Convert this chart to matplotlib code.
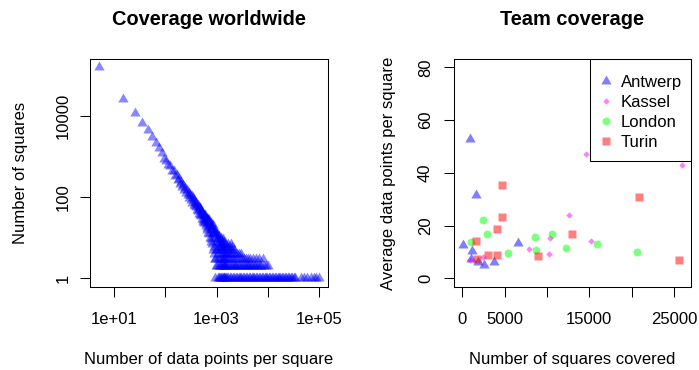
"""
Coverage worldwide (histogram, log-log) + team coverage scatter
"""

import numpy as np
import matplotlib
matplotlib.use("Agg")
import matplotlib.pyplot as plt
from matplotlib.patches import Rectangle
from matplotlib.ticker import NullLocator

# ── left panel: squares per bin of "data points per square" (bin width 10) ──
BIN_W = 10
head_counts = [
    152000, 25000, 11300, 6650, 4350, 2900, 2080, 1560, 1180, 870,
    760, 600, 560, 440, 430, 335, 340, 265, 275, 212,
    228, 176, 192, 150, 165, 128, 146, 110, 128, 95,
    112, 84, 103, 72, 92, 64, 85, 60, 75, 55,
    70, 47, 62, 44, 58, 38, 53, 36, 49, 33,
    46, 29, 41, 27, 39, 24, 36, 23, 33, 26,
    35, 19, 30, 22, 17, 28, 15, 24, 29, 13,
    24, 12, 27, 10, 19, 22, 9, 17, 23, 8,
    18, 7, 15, 20, 5, 13, 16, 6, 14, 4,
    12, 3, 15, 1, 3, 11, 5, 13, 2, 8,
    9, 2, 12, 5, 1, 7, 3, 10, 4, 1,
    6, 11, 2, 8, 3, 1, 9, 5, 2, 7,
    1, 10, 4, 2, 6, 3, 8, 1, 5, 2,
    7, 3, 1, 9, 4, 2, 6, 1, 3, 8,
    2, 5, 1, 4, 7, 2, 3, 1, 6, 2,
]
# bins beyond 1500, listed by their count
tail_1 = [1515, 1595, 1705, 1815, 1935, 2065, 2205, 2355, 2515, 2685, 2865,
          3055, 3265, 3485, 3715, 3965, 4235, 4515, 4825, 5145, 5495, 5865,
          6255, 6675, 7125, 7605, 8115, 8665, 9245, 9865, 10535, 11245,
          12005, 12815, 13675, 14595, 15575, 16625, 17745, 18945, 20225,
          21585, 23045, 24595, 26255, 28025, 29915, 31935, 34085,
          45235, 51675, 58905, 71045, 80235, 87655, 99995]
tail_2 = [1535, 1655, 1765, 1885, 2015, 2145, 2295, 2445, 2615, 2785, 2975,
          3175, 3385, 3615, 3855, 4115, 4395, 4685, 5005, 5345, 5705, 6085,
          6495, 6935, 7405, 8285, 9105, 10235]
tail_3 = [1575, 1735, 1915, 2105, 2325, 2565, 2825, 3115, 3435, 3785, 4175,
          4605, 5095, 5905, 6815, 7985]
tail_4 = [1545, 1695, 1855, 2045, 2255, 2485, 2765, 3045]
tail_5 = [1625, 1795, 1985, 2195]
tail_6 = [1565, 1745, 2035]
tail_7 = [1675, 1955]

# ── right panel: per team ──
antwerp_x = [40, 910, 1180, 990, 1600, 1890, 2540, 3760, 6560]
antwerp_y = [12.8, 53.0, 10.2, 7.5, 31.7, 6.2, 5.2, 6.1, 13.4]
kassel_x = [900, 2380, 7900, 10260, 10340, 12580, 14550, 15140, 25980]
kassel_y = [7.0, 8.0, 11.0, 9.1, 15.2, 23.9, 47.1, 14.1, 43.0]
london_x = [1060, 2480, 2870, 5350, 8540, 8690, 10540, 12190, 15850, 20680]
london_y = [13.9, 22.2, 16.8, 9.4, 15.6, 10.8, 16.7, 11.3, 12.9, 9.9]
turin_x = [1615, 1710, 3000, 4030, 4090, 4670, 4670, 8890, 12930, 20870, 25590]
turin_y = [14.2, 7.2, 8.9, 8.9, 18.8, 35.5, 23.1, 8.5, 16.9, 30.7, 7.0]
teams = ["Antwerp", "Kassel", "London", "Turin"]

# ── style ──
W, H = 699, 370
TRI = [(-1, -0.5774), (1, -0.5774), (0, 1.1547)]   # equilateral, like R pch 17
STYLE = {
    "Antwerp": dict(marker=TRI, ms=8.6, color="#0000FF"),
    "Kassel":  dict(marker="D", ms=3.3, color="#FF00FF"),
    "London":  dict(marker="o", ms=5.7, color="#00FF00"),
    "Turin":   dict(marker="s", ms=6.0, color="#FF0000"),
}
FS = 12

plt.rcParams.update({
    "font.family": ["Liberation Sans", "DejaVu Sans"],
    "font.size": FS,
    "axes.linewidth": 0.75,
    "xtick.major.width": 0.75,
    "ytick.major.width": 0.75,
    "xtick.major.size": 7.2,
    "ytick.major.size": 7.2,
})


def px(x, y):
    return x / W, 1 - y / H


def r_limits(lo, hi):
    pad = 0.04 * (hi - lo)
    return lo - pad, hi + pad


fig = plt.figure(figsize=(W / 100, H / 100), dpi=100)
ax1 = fig.add_axes([90 / W, 1 - 286.7 / H, 237.7 / W, 227.7 / H])
ax2 = fig.add_axes([454 / W, 1 - 286.7 / H, 237 / W, 227.7 / H])

# ── 1. coverage worldwide ──
head_x = BIN_W / 2 + BIN_W * np.arange(len(head_counts))
tails = [tail_1, tail_2, tail_3, tail_4, tail_5, tail_6, tail_7]
xs = np.concatenate([head_x] + [np.asarray(t, float) for t in tails])
ys = np.concatenate([np.asarray(head_counts, float)] +
                    [np.full(len(t), i + 1.0) for i, t in enumerate(tails)])

ax1.plot(xs, ys, ls="none", marker=TRI, ms=8.6, mfc="#0000FF", mec="none",
         alpha=0.47)
ax1.set_xscale("log")
ax1.set_yscale("log")
lx0, lx1 = r_limits(np.log10(xs.min()), np.log10(xs.max()))
ly0, ly1 = r_limits(np.log10(ys.min()), np.log10(ys.max()))
ax1.set_xlim(10 ** lx0, 10 ** lx1)
ax1.set_ylim(10 ** ly0, 10 ** ly1)
ax1.set_xticks([1e1, 1e2, 1e3, 1e4, 1e5])
ax1.set_xticklabels(["1e+01", "", "1e+03", "", "1e+05"])
ax1.set_yticks([1, 100, 10000])
ax1.set_yticklabels(["1", "100", "10000"])
ax1.xaxis.set_minor_locator(NullLocator())
ax1.yaxis.set_minor_locator(NullLocator())
ax1.tick_params(axis="x", pad=10.8)
ax1.tick_params(axis="y", labelrotation=90, pad=6.8)

# ── 2. team coverage ──
team_data = [(antwerp_x, antwerp_y), (kassel_x, kassel_y),
             (london_x, london_y), (turin_x, turin_y)]
for name, (tx, ty) in zip(teams, team_data):
    st = STYLE[name]
    ax2.plot(tx, ty, ls="none", marker=st["marker"], ms=st["ms"],
             mfc=st["color"], mec="none", alpha=0.5)

all_x = np.concatenate([np.asarray(t[0], float) for t in team_data])
ax2.set_xlim(*r_limits(all_x.min(), all_x.max()))
ax2.set_ylim(*r_limits(0, 80))
ax2.set_xticks([0, 5000, 10000, 15000, 20000, 25000])
ax2.set_xticklabels(["0", "5000", "", "15000", "", "25000"])
ax2.set_yticks([0, 20, 40, 60, 80])
ax2.tick_params(axis="x", pad=10.8)
ax2.tick_params(axis="y", labelrotation=90, pad=8.0)

for ax in (ax1, ax2):
    for lbl in ax.get_yticklabels():
        lbl.set_va("center")

# legend (R style box in the top-right corner)
ax2.add_patch(Rectangle((0.575, 0.552), 0.425, 0.448, transform=ax2.transAxes,
                        fill=False, ec="black", lw=0.75, clip_on=False, zorder=5))
row_px = [80.7, 101, 121, 140.7]
for name, ry in zip(teams, row_px):
    st = STYLE[name]
    yy = (286.7 - ry) / 227.7
    ax2.plot([0.641], [yy], transform=ax2.transAxes, ls="none",
             marker=st["marker"], ms=st["ms"], mfc=st["color"], mec="none",
             alpha=0.5, clip_on=False)
    ax2.text(0.7046, (286.7 - ry - 6) / 227.7, name, transform=ax2.transAxes,
             ha="left", va="baseline", fontsize=FS)

# ── titles and axis labels ──
fig.text(*px(208.9, 25), "Coverage worldwide", ha="center", va="baseline",
         fontsize=14.4, fontweight="bold")
fig.text(*px(572.5, 25), "Team coverage", ha="center", va="baseline",
         fontsize=14.4, fontweight="bold")
fig.text(*px(208.9, 364), "Number of data points per square", ha="center",
         va="baseline", fontsize=FS)
fig.text(*px(572.5, 364), "Number of squares covered", ha="center",
         va="baseline", fontsize=FS)
fig.text(*px(25, 172.9), "Number of squares", ha="center", va="baseline",
         rotation=90, rotation_mode="anchor", fontsize=FS)
fig.text(*px(393, 172.9), "Average data points per square", ha="center",
         va="baseline", rotation=90, rotation_mode="anchor", fontsize=FS)

fig.savefig("out.png", dpi=100)
print("[saved] out.png")
